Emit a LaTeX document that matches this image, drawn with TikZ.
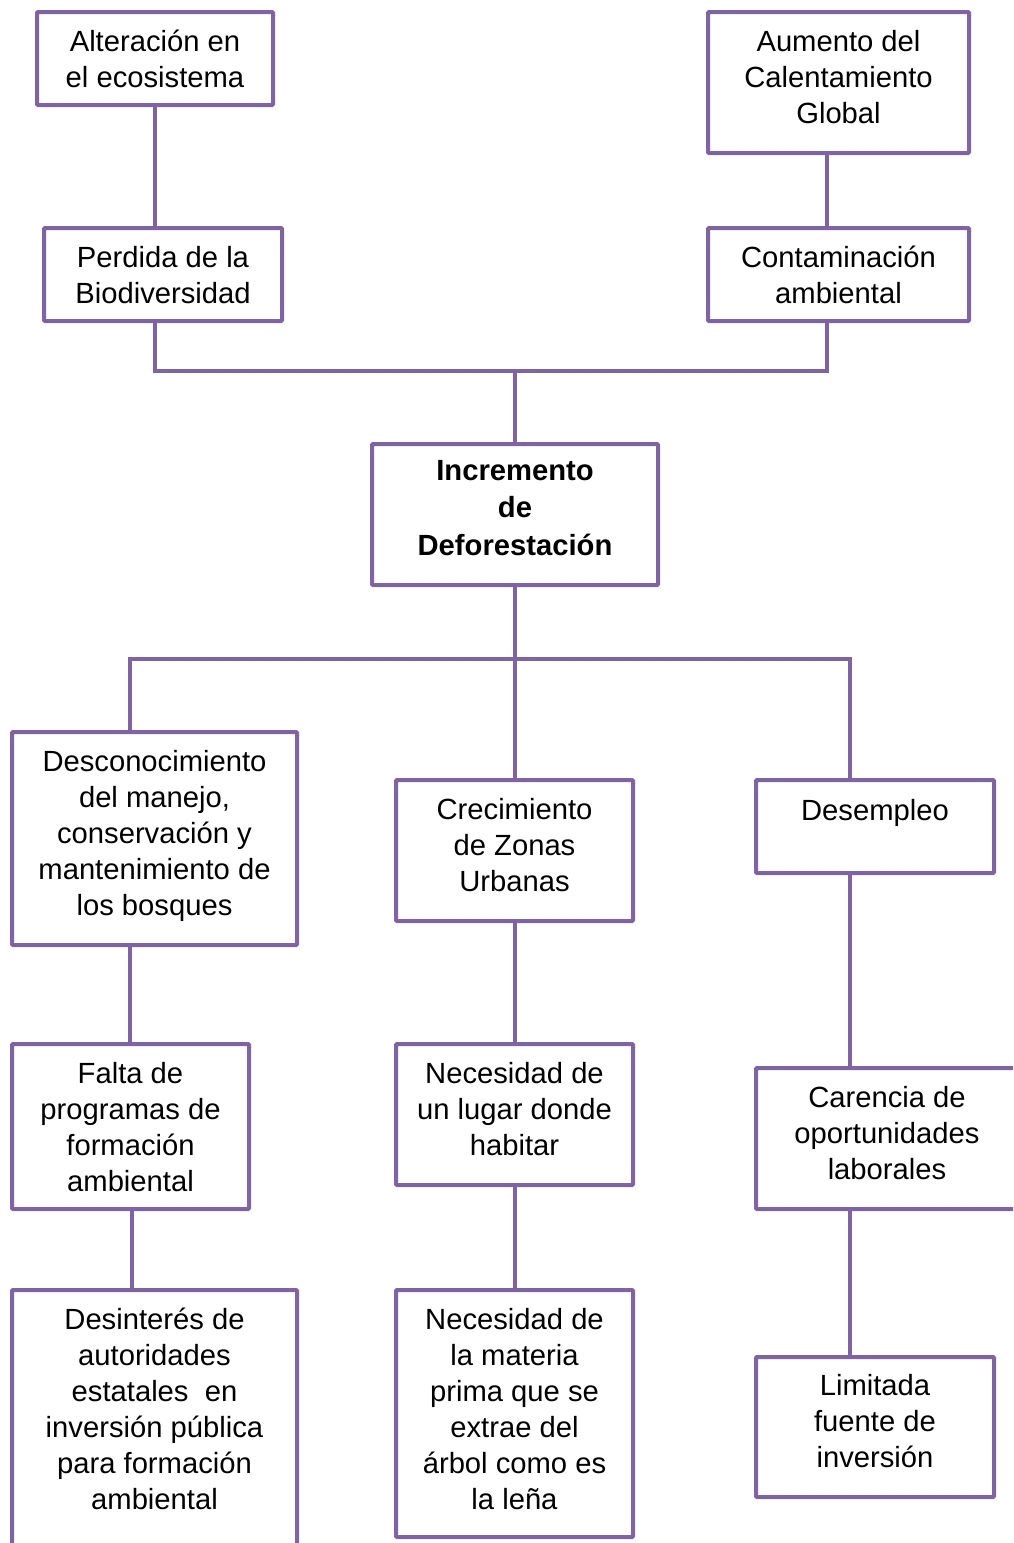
\documentclass[tikz,border=0pt]{standalone}
\usepackage{fontspec}
\setmainfont{Liberation Sans}
\usetikzlibrary{fit}
\definecolor{purp}{HTML}{8064A2}
\tikzset{
  box/.style={draw=purp, line width=4pt, fill=white, rectangle, inner sep=0pt, rounded corners=1pt},
  txtbase/.style={anchor=north, inner sep=0pt, align=center,
    execute at begin node={\strut}, execute at end node={\strut}},
  txt/.style={txtbase, yshift=22.2pt, font=\fontsize{29.2}{36}\selectfont},
  btxt/.style={txtbase, yshift=23.2pt, font=\fontsize{29.2}{37.5}\selectfont\bfseries},
  link/.style={draw=purp, line width=4pt}
}
\begin{document}
\begin{tikzpicture}[x=1pt,y=-1pt]
\useasboundingbox (0,0) rectangle (1013,1543);
\clip (0,0) rectangle (1013,1543);
% boxes
\node[box, fit={(37,12) (273,105)}] (alt) {};
\node[box, fit={(708,12) (969,153)}] (aum) {};
\node[box, fit={(44,228) (282,321)}] (per) {};
\node[box, fit={(708,228) (969,321)}] (con) {};
\node[box, fit={(372,444) (658,585)}] (inc) {};
\node[box, fit={(12,732) (297,945)}] (des) {};
\node[box, fit={(396,780) (633,921)}] (cre) {};
\node[box, fit={(756,780) (994,873)}] (dem) {};
\node[box, fit={(12,1044) (249,1209)}] (fal) {};
\node[box, fit={(396,1044) (633,1185)}] (nec) {};
\node[box, fit={(756,1068) (1030,1209)}] (car) {};
\node[box, fit={(12,1290) (297,1580)}] (dsi) {};
\node[box, fit={(396,1290) (633,1537)}] (mat) {};
\node[box, fit={(756,1357) (994,1497)}] (lim) {};
% texts
\node[txt] (talt) at (155,52) {Alteración en\\el ecosistema};
\node[txt] (taum) at (838.5,52) {Aumento del\\Calentamiento\\Global};
\node[txt] (tper) at (163,268) {Perdida de la\\Biodiversidad};
\node[txt] (tcon) at (838.5,268) {Contaminación\\ambiental};
\node[btxt] (tinc) at (515,483) {Incremento\\de\\Deforestación};
\node[txt] (tdes) at (154.5,772) {Desconocimiento\\del manejo,\\conservación y\\mantenimiento de\\los bosques};
\node[txt] (tcre) at (514.5,820) {Crecimiento\\de Zonas\\Urbanas};
\node[txt] (tdem) at (875,817) {Desempleo};
\node[txt] (tfal) at (130.5,1084) {Falta de\\programas de\\formación\\ambiental};
\node[txt] (tnec) at (514.5,1084) {Necesidad de\\un lugar donde\\habitar};
\node[txt] (tcar) at (887,1108) {Carencia de\\oportunidades\\laborales};
\node[txt] (tdsi) at (154.5,1330) {Desinterés de\\autoridades\\estatales\ \ en\\inversión pública\\para formación\\ambiental};
\node[txt] (tmat) at (514.5,1330) {Necesidad de\\la materia\\prima que se\\extrae del\\árbol como es\\la leña};
\node[txt] (tlim) at (875,1396) {Limitada\\fuente de\\inversión};
% helper coordinates
\coordinate (cA) at (155,0);
\coordinate (cB) at (827,0);
\coordinate (cD) at (130,0);
\coordinate (cE) at (850,0);
\coordinate (cF) at (132,0);
\coordinate (bus1) at (515,371);
\coordinate (bus2) at (515,659);
% connectors
\draw[link] (alt.south -| cA) -- (per.north -| cA);
\draw[link] (aum.south -| cB) -- (con.north -| cB);
\draw[link] (per.south -| cA) |- (bus1) -| (con.south -| cB);
\draw[link] (bus1) -- (inc.north);
\draw[link] (inc.south) -- (bus2);
\draw[link] (des.north -| cD) |- (bus2) -| (dem.north -| cE);
\draw[link] (bus2) -- (cre.north -| bus2);
\draw[link] (des.south -| cD) -- (fal.north -| cD);
\draw[link] (cre.south -| bus2) -- (nec.north -| bus2);
\draw[link] (dem.south -| cE) -- (car.north -| cE);
\draw[link] (fal.south -| cF) -- (dsi.north -| cF);
\draw[link] (nec.south -| bus2) -- (mat.north -| bus2);
\draw[link] (car.south -| cE) -- (lim.north -| cE);
\end{tikzpicture}
\end{document}
